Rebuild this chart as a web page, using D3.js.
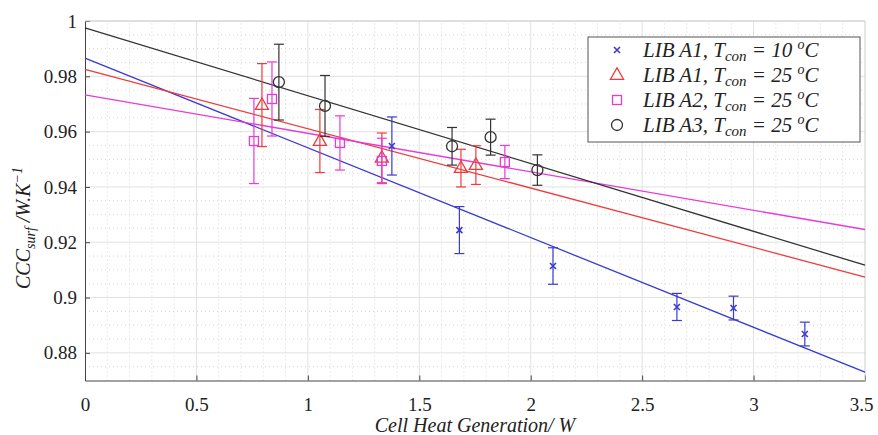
<!DOCTYPE html>
<html>
<head>
<meta charset="utf-8">
<script src="https://cdn.jsdelivr.net/npm/d3@7"></script>
<style>
  body { margin: 0; background: #fff; }
  svg { display: block; }
</style>
</head>
<body>
<svg class="chart" width="878" height="435"></svg>
<script>
// ---- data ----
const xTicks = [0, 0.5, 1, 1.5, 2, 2.5, 3, 3.5];
const yTicks = [0.88, 0.9, 0.92, 0.94, 0.96, 0.98, 1];

const seriesColors = ["#3a3ad0", "#f03a3a", "#e83ad8", "#333333"];

// LIB A1, Tcon = 10 C
const a1cX = [1.377, 1.68, 2.1, 2.656, 2.91, 3.23];
const a1cY = [0.9548, 0.9244, 0.9114, 0.8966, 0.8962, 0.8868];
const a1cE = [0.0105, 0.0085, 0.0066, 0.0049, 0.0043, 0.0043];
// LIB A1, Tcon = 25 C
const a1hX = [0.794, 1.054, 1.332, 1.687, 1.754];
const a1hY = [0.9696, 0.9566, 0.9505, 0.9468, 0.9479];
const a1hE = [0.015, 0.0114, 0.009, 0.0068, 0.007];
// LIB A2, Tcon = 25 C
const a2X = [0.758, 0.839, 1.144, 1.332, 1.884];
const a2Y = [0.9566, 0.9718, 0.9559, 0.9494, 0.949];
const a2E = [0.0154, 0.0134, 0.0098, 0.0082, 0.006];
// LIB A3, Tcon = 25 C
const a3X = [0.87, 1.077, 1.647, 1.82, 2.03];
const a3Y = [0.9779, 0.9693, 0.9547, 0.958, 0.9461];
const a3E = [0.0137, 0.011, 0.0068, 0.0065, 0.0055];

// linear fits: value at x = 0 and at x = 3.5
const fitStart = [0.9866, 0.9825, 0.9733, 0.9975];
const fitEnd = [0.8730, 0.9074, 0.9246, 0.9117];

const serif = "'Times New Roman', 'Liberation Serif', 'DejaVu Serif', serif";

const svg = d3.select(".chart");
const margin = { left: 85, right: 13, top: 21, bottom: 55 };
const width = 878, height = 435;

const x = d3.scaleLinear().domain([0, 3.5]).range([margin.left, width - margin.right]);
const y = d3.scaleLinear().domain([0.87, 1]).range([height - margin.bottom + 0.5, margin.top]);

// minor grid (dotted)
const grid = svg.append("g");
grid.selectAll(".mx")
  .data(d3.range(1, 35).map(i => i / 10).filter(v => Math.abs(v * 2 - Math.round(v * 2)) > 1e-6))
  .join("line")
  .attr("x1", d => x(d)).attr("x2", d => x(d))
  .attr("y1", y(0.87)).attr("y2", y(1))
  .attr("stroke", "#d8d8d8").attr("stroke-dasharray", "1,3");
grid.selectAll(".my")
  .data(d3.range(175, 200).map(i => i * 0.005).filter(v => Math.abs(v * 50 - Math.round(v * 50)) > 1e-6))
  .join("line")
  .attr("x1", x(0)).attr("x2", x(3.5))
  .attr("y1", d => y(d)).attr("y2", d => y(d))
  .attr("stroke", "#d8d8d8").attr("stroke-dasharray", "1,3");
// major grid
grid.selectAll(".gx").data(xTicks.slice(1, -1)).join("line")
  .attr("x1", d => x(d)).attr("x2", d => x(d))
  .attr("y1", y(0.87)).attr("y2", y(1))
  .attr("stroke", "#e2e2e2");
grid.selectAll(".gy").data(yTicks).join("line")
  .attr("x1", x(0)).attr("x2", x(3.5))
  .attr("y1", d => y(d)).attr("y2", d => y(d))
  .attr("stroke", "#e2e2e2");

// axes
const xAxis = svg.append("g")
  .attr("transform", `translate(0,${y(0.87)})`)
  .call(d3.axisBottom(x).tickValues(xTicks).tickSizeInner(-5).tickSizeOuter(0).tickPadding(17).tickFormat(d3.format("")));
const yAxis = svg.append("g")
  .attr("transform", `translate(${x(0)},0)`)
  .call(d3.axisLeft(y).tickValues(yTicks).tickSizeInner(-5).tickSizeOuter(0).tickPadding(8).tickFormat(d3.format("")));
[xAxis, yAxis].forEach(a => {
  a.attr("font-family", serif).attr("font-size", 19);
  a.selectAll(".domain").attr("stroke", "#444");
  a.selectAll(".tick line").attr("stroke", "#444");
  a.selectAll(".tick text").attr("fill", "#222");
});
xAxis.select(".tick:last-of-type text").attr("dx", -4);
// box top/right
svg.append("line").attr("x1", x(0)).attr("x2", x(3.5)).attr("y1", y(1)).attr("y2", y(1)).attr("stroke", "#ccc");
svg.append("line").attr("x1", x(3.5)).attr("x2", x(3.5)).attr("y1", y(1)).attr("y2", y(0.87)).attr("stroke", "#ccc");

// fitted lines
const line = d3.line().x(d => x(d[0])).y(d => y(d[1]));
const plot = svg.append("g");
fitStart.forEach((v, i) => {
  plot.append("path")
    .attr("d", line([[0, v], [3.5, fitEnd[i]]]))
    .attr("fill", "none").attr("stroke", seriesColors[i]).attr("stroke-width", 1.3);
});

// markers
function marker(g, kind, color) {
  if (kind === 0) {
    g.append("path").attr("d", "M-3,-3L3,3M-3,3L3,-3").attr("stroke", color).attr("stroke-width", 1.6).attr("fill", "none");
  } else if (kind === 1) {
    g.append("path").attr("d", d3.symbol(d3.symbolTriangle, 75)()).attr("transform", "translate(0,0.5)")
      .attr("stroke", color).attr("stroke-width", 1.3).attr("fill", "none");
  } else if (kind === 2) {
    g.append("rect").attr("x", -4.5).attr("y", -4.5).attr("width", 9).attr("height", 9)
      .attr("stroke", color).attr("stroke-width", 1.3).attr("fill", "none");
  } else {
    g.append("circle").attr("r", 5.5).attr("stroke", color).attr("stroke-width", 1.3).attr("fill", "none");
  }
}

const groups = [[a1cX, a1cY, a1cE], [a1hX, a1hY, a1hE], [a2X, a2Y, a2E], [a3X, a3Y, a3E]];
groups.forEach(([xs, ys, es], k) => {
  const color = seriesColors[k];
  const pts = xs.map((v, i) => ({ x: v, y: ys[i], e: es[i] }));
  const g = plot.append("g");
  const eb = g.selectAll(".eb").data(pts).join("g").attr("stroke", color).attr("stroke-width", 1.2);
  eb.append("line").attr("x1", d => x(d.x)).attr("x2", d => x(d.x))
    .attr("y1", d => y(d.y - d.e)).attr("y2", d => y(d.y + d.e));
  eb.append("line").attr("x1", d => x(d.x) - 5).attr("x2", d => x(d.x) + 5)
    .attr("y1", d => y(d.y - d.e)).attr("y2", d => y(d.y - d.e));
  eb.append("line").attr("x1", d => x(d.x) - 5).attr("x2", d => x(d.x) + 5)
    .attr("y1", d => y(d.y + d.e)).attr("y2", d => y(d.y + d.e));
  g.selectAll(".m").data(pts).join("g")
    .attr("transform", d => `translate(${x(d.x)},${y(d.y)})`)
    .each(function () { marker(d3.select(this), k, color); });
});

// legend
const lg = svg.append("g").attr("transform", "translate(588,37)");
lg.append("rect").attr("width", 272).attr("height", 105).attr("fill", "#fff").attr("stroke", "#555");
const legendLabels = [
  ["LIB A1, T", "10"], ["LIB A1, T", "25"], ["LIB A2, T", "25"], ["LIB A3, T", "25"]
];
legendLabels.forEach((lab, i) => {
  const row = lg.append("g").attr("transform", `translate(29,${13 + i * 25})`);
  marker(row, i, seriesColors[i]);
  const t = row.append("text").attr("x", 26).attr("y", 7)
    .attr("font-family", serif).attr("font-style", "italic").attr("font-size", 21).attr("fill", "#222");
  t.append("tspan").text(lab[0]);
  t.append("tspan").text("con").attr("font-size", 15).attr("dy", 4);
  t.append("tspan").text(" = " + lab[1] + " ").attr("dy", -4);
  t.append("tspan").text("o").attr("font-size", 14).attr("dy", -8);
  t.append("tspan").text("C").attr("dy", 8);
});

// axis titles
svg.append("text").attr("x", (x(0) + x(3.5)) / 2).attr("y", 432)
  .attr("font-family", serif).attr("font-style", "italic").attr("fill", "#222")
  .attr("text-anchor", "middle").attr("font-size", 20).text("Cell Heat Generation/ W");

const yt = svg.append("text")
  .attr("font-family", serif).attr("font-style", "italic").attr("fill", "#222")
  .attr("transform", `translate(30,${228}) rotate(-90)`)
  .attr("text-anchor", "middle").attr("font-size", 20);
yt.append("tspan").text("CCC");
yt.append("tspan").text("surf").attr("font-size", 14).attr("dy", 5);
yt.append("tspan").text(" /W.K").attr("dy", -5);
yt.append("tspan").text("−1").attr("font-size", 14).attr("dy", -8);
</script>
</body>
</html>
